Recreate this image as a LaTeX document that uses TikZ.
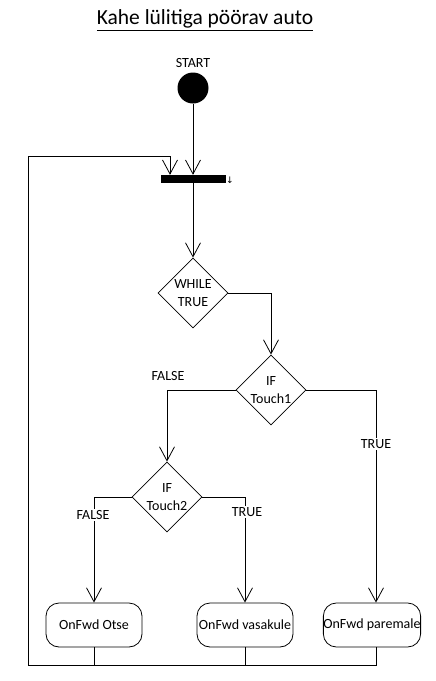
\documentclass[tikz,border=0pt]{standalone}
\usepackage{fontspec}
\setmainfont{Carlito}
\newfontfamily\symfont{DejaVu Sans}
\usetikzlibrary{shapes.geometric,arrows.meta}
\begin{document}
\begin{tikzpicture}[x=1pt,y=-1pt,
  every node/.style={font=\fontsize{14}{18}\selectfont, inner sep=0pt},
  ln/.style={line width=1pt, black},
  arr/.style={ln, -{Straight Barb[length=14pt,width=15pt,line width=0.8pt]}},
  cond/.style={diamond, draw, line width=0.8pt, minimum width=70pt, minimum height=70pt, align=center},
  act/.style={draw, line width=0.8pt, rounded corners=13pt, minimum width=96pt, minimum height=44pt},
  lbl/.style={fill=white, inner sep=1pt}
]
\useasboundingbox (0,0) rectangle (436,681);
\node[font=\fontsize{21.5}{25}\selectfont] (title) at (205,20) {\underline{Kahe lülitiga pöörav auto}};
\node (startlbl) at (193,63) {START};
\node[circle, fill=black, minimum size=31pt] (start) at (193,88) {};
\node[fill=black, minimum width=65pt, minimum height=8pt] (bar) at (193.5,179) {};
\node[font=\symfont\fontsize{9}{10}\selectfont] (barmark) at (230,180) {↓};
\node[cond] (while) at (193,293) {WHILE\\TRUE};
\node[cond] (if1) at (271,390) {IF\\Touch1};
\node[cond] (if2) at (167,497) {IF\\Touch2};
\node[act] (otse) at (94,625) {OnFwd Otse};
\node[act] (vasa) at (245,625) {OnFwd vasakule};
\node[act] (pare) at (372,625) {OnFwd paremale};
\coordinate (main) at (193,0);
\coordinate (pareX) at (376,0);
\coordinate (loopbl) at (28,665);
\coordinate (loopin) at (170,156);
% connectors
\draw[arr] (start) -- (start |- bar.north);
\draw[arr] (bar.south -| main) -- (while.north);
\draw[arr] (while.east) -| (if1.north);
\draw[arr] (if1.west) -| (if2.north);
\draw[arr] (if1.east) -| (pareX |- pare.north);
\draw[arr] (if2.west) -| (otse.north);
\draw[arr] (if2.east) -| (vasa.north);
\draw[arr] (pare.south -| pareX) |- (loopbl) |- (loopin) -- (loopin |- bar.north);
\draw[ln] (otse.south) -- (otse.south |- loopbl);
\draw[ln] (vasa.south) -- (vasa.south |- loopbl);
% labels
\node (f1) at (168,376) {FALSE};
\node[lbl] (t1) at (376,444) {TRUE};
\node[lbl] (f2) at (93,515) {FALSE};
\node[lbl] (t2) at (247,512) {TRUE};
\end{tikzpicture}
\end{document}
